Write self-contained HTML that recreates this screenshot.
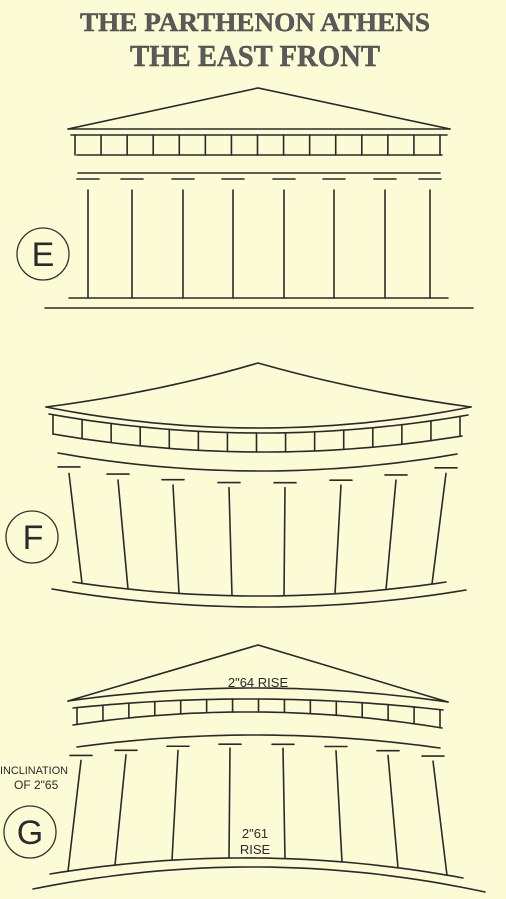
<!DOCTYPE html>
<html><head><meta charset="utf-8">
<style>
html,body{margin:0;padding:0;background:#fbfbd6;}
svg{display:block;}
text{font-family:"Liberation Sans",sans-serif;fill:#2a2a2a;}
.title{font-family:"Liberation Serif",serif;fill:#5a5a5a;font-weight:bold;stroke:#444;stroke-width:0.4;}
</style></head>
<body>
<svg id="s" width="506" height="899" viewBox="0 0 506 899">
<rect width="506" height="899" fill="#fbfbd6"/>
<text class="title" x="255" y="31" font-size="26" text-anchor="middle" textLength="350" lengthAdjust="spacingAndGlyphs">THE PARTHENON ATHENS</text>
<text class="title" x="255" y="66" font-size="31" text-anchor="middle" textLength="250" lengthAdjust="spacingAndGlyphs">THE EAST FRONT</text>
<g id="g" fill="none" stroke="#2a2a2a" stroke-width="1.6" stroke-linecap="round"></g>
<g><circle cx="43" cy="254" r="26" fill="none" stroke="#333" stroke-width="1.3"/><text x="43" y="266" font-size="34" text-anchor="middle">E</text></g>
<g><circle cx="32" cy="537" r="26" fill="none" stroke="#333" stroke-width="1.3"/><text x="33" y="549" font-size="34" text-anchor="middle">F</text></g>
<g><circle cx="30" cy="832" r="26" fill="none" stroke="#333" stroke-width="1.3"/><text x="30" y="844" font-size="34" text-anchor="middle">G</text></g>
<text x="258" y="687" font-size="13" text-anchor="middle">2"64 RISE</text>
<text x="0" y="774" font-size="11" textLength="68" lengthAdjust="spacingAndGlyphs">INCLINATION</text>
<text x="14" y="789" font-size="12">OF 2"65</text>
<text x="255" y="838" font-size="13" text-anchor="middle">2"61</text>
<text x="255" y="854" font-size="13" text-anchor="middle">RISE</text>
</svg>
<script>
var g=document.getElementById('g');
function par(c,x){var x0=c[0],y0=c[1],xm=c[2],ym=c[3],x1=c[4],y1=c[5];
return y0*(x-xm)*(x-x1)/((x0-xm)*(x0-x1))+ym*(x-x0)*(x-x1)/((xm-x0)*(xm-x1))+y1*(x-x0)*(x-xm)/((x1-x0)*(x1-xm));}
function curve(c,name){var p=[];for(var i=0;i<=40;i++){var x=c[0]+(c[4]-c[0])*i/40;p.push(x.toFixed(1)+','+par(c,x).toFixed(1));}
var e=document.createElementNS('http://www.w3.org/2000/svg','polyline');e.setAttribute('points',p.join(' '));


g.appendChild(e);}
function line(x1,y1,x2,y2,name){var e=document.createElementNS('http://www.w3.org/2000/svg','line');
e.setAttribute('x1',x1);e.setAttribute('y1',y1);e.setAttribute('x2',x2);e.setAttribute('y2',y2);


g.appendChild(e);}
function path(d,name){var e=document.createElementNS('http://www.w3.org/2000/svg','path');e.setAttribute('d',d);


g.appendChild(e);}
function temple(t){
path(t.ped,'pediment');
curve(t.pedBase,'pediment-base');
curve(t.frTop,'frieze-top');curve(t.frBot,'frieze-bottom');
for(var i=0;i<15;i++){var x=t.frTop[0]+4+(t.frBot[4]-t.frTop[0]-6)*i/14;line(x,par(t.frTop,x),x,par(t.frBot,x),'triglyph');}
curve(t.arch,'architrave');
for(var j=0;j<8;j++){var xt=t.tops[j],y=par(t.arch,xt)+t.dash;line(xt-11,y,xt+11,y,'capital');
line(xt,par(t.colTop,xt),t.bots[j],par(t.base,t.bots[j]),'column');}
curve(t.base,'stylobate');curve(t.ground,'ground-line');}
temple({dash:6,ped:'M68,129 L258,88 L450,129',pedBase:[68,129,258,129,450,129],frTop:[71,135,258,135,447,135],frBot:[77,155,258,155,442,155],
arch:[78,173,258,173,440,173],colTop:[80,190,258,190,440,190],tops:[88,132,183,233,284,334,385,430],bots:[88,132,183,233,284,334,385,430],
base:[69,298,258,298,448,298],ground:[45,308,258,308,473,308]});
temple({dash:12,ped:'M46,407 Q160,392 258,363 Q360,392 471,407',pedBase:[46,407,258,428,471,407],frTop:[49,414,258,433,468,415],frBot:[53,434,258,452,462,436],
arch:[58,453,258,471,457,454],colTop:[60,472,258,488,455,472],tops:[69,118,173,229,285,341,396,446],bots:[82,128,179,232,284,335,386,432],
base:[73,582,258,596,446,582],ground:[52,589,258,607,466,590]});
temple({dash:9,ped:'M68,701 L258,645 L448,702',pedBase:[68,701,258,688,448,702],frTop:[73,708,258,699,443,710],frBot:[73,725,258,712,442,728],
arch:[77,747,258,735,440,748],colTop:[70,762,258,748,445,763],tops:[81,126,178,230,283,336,388,433],bots:[68,115,172,229,285,342,398,447],
base:[50,874,258,858,463,878],ground:[33,889,258,867,485,892]});
</script>
</body></html>
